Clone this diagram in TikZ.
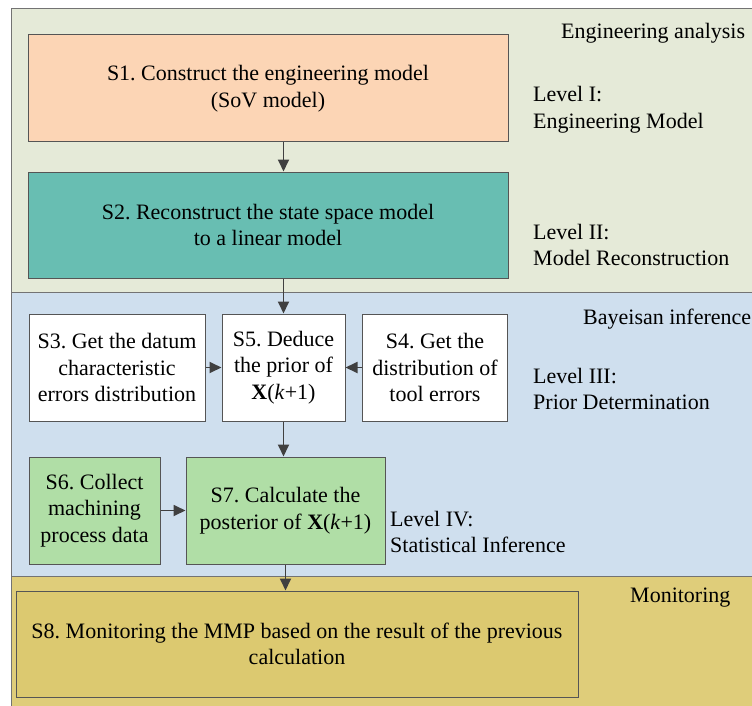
\documentclass[tikz,border=0pt]{standalone}
\usepackage{fontspec}
\setmainfont{Liberation Serif}
\usetikzlibrary{arrows.meta}
\frenchspacing
\definecolor{engbg}{RGB}{229,234,216}
\definecolor{baybg}{RGB}{207,223,238}
\definecolor{monbg}{RGB}{223,205,122}
\definecolor{seightbg}{RGB}{220,201,112}
\definecolor{peach}{RGB}{252,213,181}
\definecolor{teal}{RGB}{104,190,178}
\definecolor{lgreen}{RGB}{176,222,166}
\definecolor{boxline}{RGB}{85,85,85}
\definecolor{panline}{RGB}{115,115,115}
\definecolor{arrcol}{RGB}{64,64,64}
\begin{document}
\begin{tikzpicture}[x=1pt,y=-1pt,
  font=\fontsize{22}{26.7}\selectfont\frenchspacing,
  panel/.style={fill=#1,draw=panline,line width=1pt},
  sbox/.style={draw=boxline,line width=1pt,fill=#1,inner sep=0pt,align=center},
  lbl/.style={inner sep=0pt,align=left,anchor=west},
  arr/.style={draw=arrcol,line width=1.8pt,-{Triangle[length=12pt,width=11pt]}}]
\clip (0,0) rectangle (752,706);
% panels
\path[panel=engbg] (11,9) rectangle (780,292);
\path[panel=baybg] (11,292) rectangle (780,576);
\path[panel=monbg] (11,576) rectangle (780,740);
% titles
\node[lbl] (tEng) at (561,33) {Engineering analysis};
\node[lbl] (tBay) at (583,319) {Bayeisan inference};
\node[lbl] (tMon) at (630,598) {Monitoring};
% level labels
\node[lbl] (l1) at (533,110) {Level I:\\Engineering Model};
\node[lbl] (l2) at (533,245) {Level II:\\Model Reconstruction};
\node[lbl] (l3) at (533,389) {Level III:\\Prior Determination};
\node[lbl] (l4) at (390,532) {Level IV:\\Statistical Inference};
% step boxes
\node[sbox=peach,minimum width=480pt,minimum height=107pt] (s1) at (268,88.5)
  {S1. Construct the engineering model\\(SoV model)};
\node[sbox=teal,minimum width=480pt,minimum height=106pt] (s2) at (268,225)
  {S2. Reconstruct the state space model\\to a linear model};
\node[sbox=white,minimum width=176pt,minimum height=107pt] (s3) at (117,367.5)
  {S3. Get the datum\\characteristic\\errors distribution};
\node[sbox=white,minimum width=123pt,minimum height=107pt] (s5) at (283.5,367.5)
  {S5. Deduce\\the prior of\\\textbf{X}(\textit{k}+1)};
\node[sbox=white,minimum width=145pt,minimum height=107pt] (s4) at (435,367.5)
  {S4. Get the\\distribution of\\tool errors};
\node[sbox=lgreen,minimum width=131pt,minimum height=107pt] (s6) at (94.5,510.5)
  {S6. Collect\\machining\\process data};
\node[sbox=lgreen,minimum width=199pt,minimum height=107pt] (s7) at (285.5,510.5)
  {S7. Calculate the\\posterior of \textbf{X}(\textit{k}+1)};
\node[sbox=seightbg,minimum width=562pt,minimum height=106pt] (s8) at (297,644)
  {S8. Monitoring the MMP based on the result of the previous\\calculation};
% connectors
\draw[arr] (s1.south -| s5) -- (s2.north -| s5);
\draw[arr] (s2.south -| s5) -- (s5.north);
\draw[arr] (s3.east) -- (s5.west);
\draw[arr] (s4.west) -- (s5.east);
\draw[arr] (s5.south) -- (s7.north -| s5);
\draw[arr] (s6.east) -- (s7.west);
\draw[arr] (s7.south) -- (s8.north -| s7);
\end{tikzpicture}
\end{document}
